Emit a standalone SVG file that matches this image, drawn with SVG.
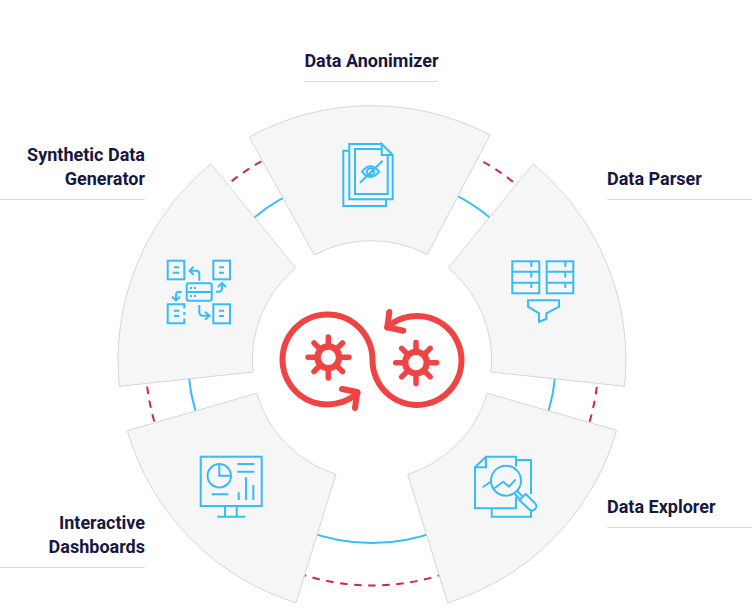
<svg xmlns="http://www.w3.org/2000/svg" width="752" height="614" viewBox="0 0 752 614">
<style>
.sec{fill:#f6f6f6;stroke:#d6d6d6;stroke-width:1}
.ic{fill:none;stroke:#36bdf7;stroke-width:2}
.rd{fill:none;stroke:#f04444;stroke-width:6;stroke-linecap:round;stroke-linejoin:round}
.tx{font-family:Roboto,"Liberation Sans",sans-serif;font-weight:700;font-size:18px;fill:#17173f}
.ul{stroke:#dcdcdc;stroke-width:1;fill:none}
</style>
<rect width="752" height="614" fill="#ffffff"/>
<g id="connectors">
<circle cx="372" cy="359" r="184" fill="none" stroke="#36bdf7" stroke-width="2"/>
<circle cx="372" cy="359" r="226.5" fill="none" stroke="#d0254f" stroke-width="2" stroke-dasharray="7.5 6.59" stroke-dashoffset="0.25"/>
</g>
<g id="node-anonimizer">
<path class="sec" d="M249.3,137 A254,254 0 0 1 490,135 L427.3,254.5 A120,120 0 0 0 314.3,255 Z"/>
<g class="ic">
<path d="M349.3,150.7H343.3V206H386V199.3"/>
<path d="M381.7,144H349.3V199.3H392.7V155L381.7,144V155H392.7"/>
<path d="M381,149H355V194H387.7V155"/>
<path d="M362,171.7Q370.5,161 379,171.7Q370.5,182.4 362,171.7Z"/>
<circle cx="370.5" cy="171.7" r="3.5"/>
<path d="M360,182.7L382.7,160.7"/>
</g>
<text class="tx" x="371.5" y="66.5" text-anchor="middle">Data Anonimizer</text>
<path class="ul" d="M304,81.5H438"/>
</g>
<g id="node-parser">
<path class="sec" d="M533,164 A254,254 0 0 1 624.7,386.3 L491,372 A120,120 0 0 0 448.3,267.7 Z"/>
<g class="ic">
<rect x="512.3" y="261.3" width="27" height="32"/>
<rect x="546.7" y="261.3" width="26.6" height="32"/>
<path d="M512.3,271.7H539.3M512.3,282.7H539.3M546.7,271.7H573.3M546.7,282.7H573.3"/>
<path d="M531.3,261.3V267M531.3,271.7V277.5M531.3,282.7V288M565.3,261.3V267M565.3,271.7V277.5M565.3,282.7V288"/>
<path d="M528,300.3H559V306.7L546.3,313.3V319L539,321.7V313.3L528,306.7Z"/>
</g>
<text class="tx" x="607" y="185">Data Parser</text>
<path class="ul" d="M607,199.5H752"/>
</g>
<g id="node-explorer">
<path class="sec" d="M616.7,430.3 A254,254 0 0 1 447.7,602.7 L407.7,474.3 A120,120 0 0 0 487.3,393.3 Z"/>
<g class="ic">
<path d="M516,466.5V456.7H486L475,467.3V508.3H516V497"/>
<path d="M486,456.7V467.3H475"/>
<path d="M516,460H531V494M531,511V516.7H491.7V508.3"/>
<circle cx="506" cy="480.7" r="15"/>
<path d="M519.3,500L529,509.3A4.2,4.2 0 0 0 535,503.3L525.7,494Z"/>
<path d="M517,490.7L522,496M515,494L519.3,498.6"/>
<path d="M482.7,487.3L490.7,481.7M494.3,488.3L503.3,481.7L509,486.7L515.7,479.3"/>
</g>
<text class="tx" x="607" y="513">Data Explorer</text>
<path class="ul" d="M607,527.5H752"/>
</g>
<g id="node-dashboards">
<path class="sec" d="M127.3,430.7 A254,254 0 0 0 296,602.7 L336,474.3 A120,120 0 0 1 256.7,393.3 Z"/>
<g class="ic">
<rect x="200.7" y="456.7" width="61" height="49.3"/>
<path d="M225,506V516.7M236.7,506V516.7M217.3,516.7H245"/>
<circle cx="219.3" cy="475.7" r="11.7"/>
<path d="M219.3,464V475.7H231"/>
<path d="M211.7,494.3H228.3M237.3,464H254.3M237.3,471.7H254.3"/>
<path d="M238.7,492.3V500M246,477.3V500M253.3,485V500"/>
</g>
<text class="tx" x="145" y="529" text-anchor="end">Interactive</text>
<text class="tx" x="145" y="553" text-anchor="end">Dashboards</text>
<path class="ul" d="M0,567.5H145"/>
</g>
<g id="node-generator">
<path class="sec" d="M119.3,386.3 A254,254 0 0 1 211,164 L295.7,267.7 A120,120 0 0 0 253,372 Z"/>
<g class="ic">
<rect x="167.7" y="260.7" width="16.6" height="18.6"/>
<rect x="213.3" y="260.7" width="16.7" height="18.6"/>
<path d="M184.3,308.5V304.3H167.7V323.3H184.3V318.5M184.3,312V315"/>
<rect x="213.3" y="304.3" width="16.7" height="19"/>
<path d="M174,267.3H179.3M172.7,272.7H179.3M219,267.3H224M219,272.7H224M174,310.7H179.3M174,316H179.3M219,310.7H224M219,316H224"/>
<rect x="186.7" y="283.3" width="25" height="17.4" rx="2"/>
<path d="M186.7,292H211.7M190,288H192M194,288H196M190,296H192M194,296H196"/>
<path d="M199.3,280.7V274Q199.3,270.7 196,270.7H189.5M193.5,266.7L189.5,270.7L193.5,274.7"/>
<path d="M216,291.7H219Q222,291.7 222,288V284M218,287L222,283L226,287"/>
<path d="M181.7,292H178Q176,292 176,295V300M172,296.5L176,300.5L180,296.5"/>
<path d="M199.3,305V312Q199.3,315.7 203,315.7H209M205,311.7L209.5,315.7L205,319.7"/>
</g>
<text class="tx" x="145" y="161" text-anchor="end">Synthetic Data</text>
<text class="tx" x="145" y="185" text-anchor="end">Generator</text>
<path class="ul" d="M0,199.5H145"/>
</g>
<g id="node-center">
<path class="rd" d="M357.5,393A45,45 0 1 1 372.5,360A44.5,44.5 0 1 0 387.3,327.3"/>
<path class="rd" d="M342,389L357.3,392L355,408M389.3,312L387.3,327.3L403.3,330.7"/>
<g fill="none" stroke="#f04444" stroke-linecap="round">
<circle cx="328.3" cy="357.3" r="10.8" stroke-width="6.4"/>
<path stroke-width="5.5" d="M328.3,337V343M328.3,372V378M308,357.3H314M343,357.3H349M314,343L318.5,347.5M338,367L342.5,371.5M314,371.5L318.5,367M338,347.5L342.5,343"/>
<circle cx="416" cy="362.7" r="10.8" stroke-width="6.4"/>
<path stroke-width="5.5" d="M416,342.4V348.4M416,377.4V383.4M395.7,362.7H401.7M430.7,362.7H436.7M401.7,348.4L406.2,352.9M425.7,372.4L430.2,376.9M401.7,376.9L406.2,372.4M425.7,352.9L430.2,348.4"/>
</g>
</g>
</svg>
